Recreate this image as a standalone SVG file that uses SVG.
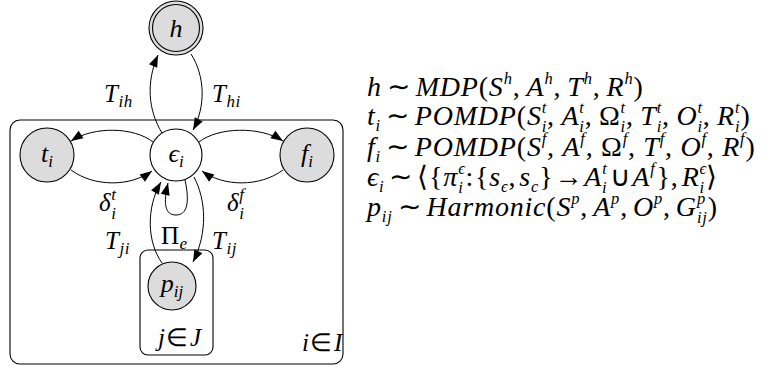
<svg xmlns="http://www.w3.org/2000/svg" width="771" height="370" viewBox="0 0 771 370">
<style>
.n{fill:#dcdcdc;stroke:#000;stroke-width:1.1}
.w{fill:#fff;stroke:#000;stroke-width:1.1}
.pl{fill:none;stroke:#000;stroke-width:1.1}
.e{fill:none;stroke:#000;stroke-width:1;marker-end:url(#ah)}
text{font-family:'Liberation Serif',serif;font-style:italic;font-size:26px;fill:#000}
.eq{font-size:28px;letter-spacing:0.8px}
.lb{font-size:25px;letter-spacing:0.5px}
.up{font-style:normal}
.s{font-size:17px}
.eq .s{font-size:16.5px}
</style>
<defs>
<marker id="ah" markerUnits="userSpaceOnUse" markerWidth="14" markerHeight="11" refX="12" refY="5" orient="auto" overflow="visible"><path d="M0,0.5 L12,5 L0,9.5 z" fill="#000"/></marker>
</defs>
<g id="plate-i"><rect class="pl" x="10" y="120" width="333" height="244" rx="10"/><text class="lb" x="302" y="351">i<tspan class="up" dx="1">∈</tspan><tspan dx="1">I</tspan></text></g>
<g id="plate-j"><rect class="pl" x="140" y="250" width="73" height="105" rx="8"/><text class="lb" x="158" y="346">j<tspan class="up" dx="1">∈</tspan><tspan dx="1">J</tspan></text></g>
<g id="connectors">
<path class="e" d="M162,133 C148,110 146,82 158,55"/>
<path class="e" d="M191,54 C205,76 206,106 193,130"/>
<path class="e" d="M153,142 C134,127 94,126 71,141"/>
<path class="e" d="M71,170 C94,187 130,187 152,171"/>
<path class="e" d="M199,142 C218,127 260,126 283,141"/>
<path class="e" d="M283,170 C260,187 224,187 202,171"/>
<path class="e" d="M162,263 C147,242 146,208 161,182"/>
<path class="e" d="M185,180 C190,203 187,215 176,215 C165,215 163,204 168,183"/>
<path class="e" d="M194,177 C206,200 208,232 193,262"/>
<text class="lb" x="104" y="102">T<tspan class="s" dy="5">ih</tspan></text>
<text class="lb" x="212" y="102">T<tspan class="s" dy="5">hi</tspan></text>
<text class="lb" x="99" y="211">δ<tspan class="s" dy="-11">t</tspan><tspan class="s" dx="-5" dy="19">i</tspan></text>
<text class="lb" x="227" y="211">δ<tspan class="s" dy="-11">f</tspan><tspan class="s" dx="-5" dy="19">i</tspan></text>
<text class="lb" x="105" y="249">T<tspan class="s" dy="5">ji</tspan></text>
<text class="lb" x="161" y="244"><tspan class="up">Π</tspan><tspan class="s" dy="5">e</tspan></text>
<text class="lb" x="212" y="249">T<tspan class="s" dy="5">ij</tspan></text>
</g>
<g id="node-h"><circle class="n" cx="176" cy="28" r="27"/><circle class="pl" cx="176" cy="28" r="23.5"/><text x="176" y="37" text-anchor="middle">h</text></g>
<g id="node-e"><circle class="w" cx="176" cy="155" r="26"/><text x="176" y="162" text-anchor="middle">ϵ<tspan class="s" dy="5">i</tspan></text></g>
<g id="node-t"><circle class="n" cx="47" cy="155" r="27"/><text x="47" y="162" text-anchor="middle">t<tspan class="s" dy="5">i</tspan></text></g>
<g id="node-f"><circle class="n" cx="307" cy="155" r="27"/><text x="307" y="162" text-anchor="middle">f<tspan class="s" dy="5">i</tspan></text></g>
<g id="node-p"><circle class="n" cx="172" cy="286" r="24"/><text x="172" y="292" text-anchor="middle">p<tspan class="s" dy="5">ij</tspan></text></g>
<g id="equations">
<text class="eq" x="367" y="96">h<tspan class="up" dx="5">∼</tspan><tspan dx="5">MDP</tspan><tspan class="up">(</tspan>S<tspan class="s" dy="-12">h</tspan><tspan class="up" dy="12">,</tspan><tspan dx="6">A</tspan><tspan class="s" dy="-12">h</tspan><tspan class="up" dy="12">,</tspan><tspan dx="6">T</tspan><tspan class="s" dy="-12">h</tspan><tspan class="up" dy="12">,</tspan><tspan dx="6">R</tspan><tspan class="s" dy="-12">h</tspan><tspan class="up" dy="12">)</tspan></text>
<text class="eq" x="367" y="125">t<tspan class="s" dy="6">i</tspan><tspan class="up" dx="5" dy="-6">∼</tspan><tspan dx="5">POMDP</tspan><tspan class="up">(</tspan>S<tspan class="s" dy="-12">t</tspan><tspan class="s" dx="-5.4" dy="19">i</tspan><tspan class="up" dy="-7">,</tspan><tspan dx="6.5">A</tspan><tspan class="s" dy="-12">t</tspan><tspan class="s" dx="-5.4" dy="19">i</tspan><tspan class="up" dy="-7">,</tspan><tspan class="up" dx="6.5">Ω</tspan><tspan class="s" dy="-12">t</tspan><tspan class="s" dx="-5.4" dy="19">i</tspan><tspan class="up" dy="-7">,</tspan><tspan dx="6.5">T</tspan><tspan class="s" dy="-12">t</tspan><tspan class="s" dx="-5.4" dy="19">i</tspan><tspan class="up" dy="-7">,</tspan><tspan dx="6.5">O</tspan><tspan class="s" dy="-12">t</tspan><tspan class="s" dx="-5.4" dy="19">i</tspan><tspan class="up" dy="-7">,</tspan><tspan dx="6.5">R</tspan><tspan class="s" dy="-12">t</tspan><tspan class="s" dx="-5.4" dy="19">i</tspan><tspan class="up" dy="-7">)</tspan></text>
<text class="eq" x="367" y="156">f<tspan class="s" dy="6">i</tspan><tspan class="up" dx="5" dy="-6">∼</tspan><tspan dx="5">POMDP</tspan><tspan class="up">(</tspan>S<tspan class="s" dy="-12">f</tspan><tspan class="up" dy="12">,</tspan><tspan dx="7.5">A</tspan><tspan class="s" dy="-12">f</tspan><tspan class="up" dy="12">,</tspan><tspan class="up" dx="7.5">Ω</tspan><tspan class="s" dy="-12">f</tspan><tspan class="up" dy="12">,</tspan><tspan dx="7.5">T</tspan><tspan class="s" dy="-12">f</tspan><tspan class="up" dy="12">,</tspan><tspan dx="7.5">O</tspan><tspan class="s" dy="-12">f</tspan><tspan class="up" dy="12">,</tspan><tspan dx="7.5">R</tspan><tspan class="s" dy="-12">f</tspan><tspan class="up" dy="12">)</tspan></text>
<text class="eq" x="367" y="186">ϵ<tspan class="s" dy="6">i</tspan><tspan class="up" dx="5" dy="-6">∼</tspan><tspan class="up" dx="4">⟨{</tspan>π<tspan class="s" dy="-12">ϵ</tspan><tspan class="s" dx="-7.5" dy="19">i</tspan><tspan class="up" dx="2" dy="-7">:</tspan><tspan class="up" dx="1">{</tspan>s<tspan class="s" dy="6">ϵ</tspan><tspan class="up" dy="-6">,</tspan><tspan dx="3">s</tspan><tspan class="s" dy="6">c</tspan><tspan class="up" dy="-6">}</tspan><tspan class="up" dx="1">→</tspan><tspan dx="1">A</tspan><tspan class="s" dy="-12">t</tspan><tspan class="s" dx="-5.4" dy="19">i</tspan><tspan class="up" dx="2" dy="-7">∪</tspan><tspan dx="1">A</tspan><tspan class="s" dy="-12">f</tspan><tspan class="up" dx="1" dy="12">},</tspan><tspan dx="3">R</tspan><tspan class="s" dy="-12">ϵ</tspan><tspan class="s" dx="-7.5" dy="19">i</tspan><tspan class="up" dx="1" dy="-7">⟩</tspan></text>
<text class="eq" x="367" y="216">p<tspan class="s" dy="6">ij</tspan><tspan class="up" dx="5" dy="-6">∼</tspan><tspan dx="5">Harmonic</tspan><tspan class="up">(</tspan>S<tspan class="s" dy="-12">p</tspan><tspan class="up" dy="12">,</tspan><tspan dx="5">A</tspan><tspan class="s" dy="-12">p</tspan><tspan class="up" dy="12">,</tspan><tspan dx="5">O</tspan><tspan class="s" dy="-12">p</tspan><tspan class="up" dy="12">,</tspan><tspan dx="5">G</tspan><tspan class="s" dy="-12">p</tspan><tspan class="s" dx="-9" dy="19">ij</tspan><tspan class="up" dy="-7">)</tspan></text>
</g>
</svg>
